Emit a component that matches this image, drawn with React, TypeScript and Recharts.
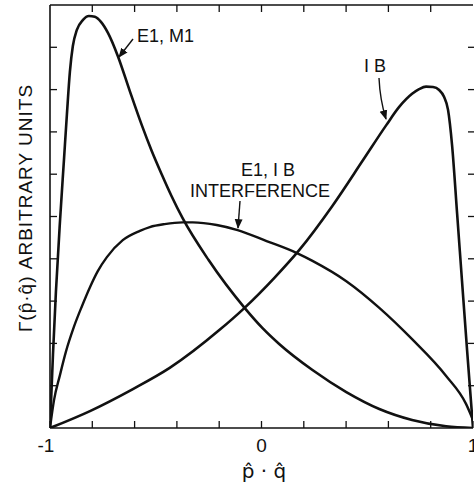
import { LineChart, Line, XAxis, YAxis } from 'recharts'

// x = p·q, y = rate in arbitrary units (0..10 tick grid)
const e1m1X = [-1, -0.986, -0.972, -0.953, -0.934, -0.92, -0.906, -0.892, -0.873, -0.844, -0.816, -0.788, -0.759, -0.726, -0.679, -0.623, -0.566, -0.519, -0.472, -0.425, -0.373, -0.25, -0.08, 0.005, 0.085, 0.241, 0.401, 0.557, 0.712, 0.873, 1]
const e1m1Y = [0, 1.73, 3.22, 4.87, 6.34, 7.42, 8.42, 9.03, 9.41, 9.65, 9.74, 9.72, 9.6, 9.34, 8.79, 7.97, 7.16, 6.55, 6.0, 5.48, 4.96, 3.97, 2.84, 2.36, 1.98, 1.37, 0.85, 0.45, 0.19, 0.04, 0]

const interfX = [-1, -0.981, -0.953, -0.925, -0.887, -0.849, -0.811, -0.774, -0.731, -0.656, -0.575, -0.528, -0.458, -0.373, -0.325, -0.212, -0.113, 0.024, 0.165, 0.241, 0.401, 0.557, 0.712, 0.873, 0.967, 1]
const interfY = [0, 0.66, 1.25, 1.8, 2.39, 2.88, 3.33, 3.71, 4.04, 4.44, 4.66, 4.75, 4.82, 4.86, 4.86, 4.8, 4.68, 4.42, 4.14, 3.95, 3.47, 2.84, 2.1, 1.23, 0.57, 0.19]

const ibX = [-1, -0.811, -0.608, -0.434, -0.198, -0.08, 0.061, 0.179, 0.335, 0.481, 0.59, 0.651, 0.712, 0.745, 0.778, 0.811, 0.84, 0.863, 0.882, 0.901, 0.925, 0.948, 0.972, 1]
const ibY = [0, 0.4, 0.92, 1.42, 2.32, 2.84, 3.55, 4.21, 5.25, 6.34, 7.16, 7.59, 7.9, 8.01, 8.07, 8.06, 7.99, 7.83, 7.52, 6.69, 5.06, 3.48, 1.84, 0]

const xTicks = [-1, -0.8, -0.6, -0.4, -0.2, 0, 0.2, 0.4, 0.6, 0.8, 1]
const yTicks = [0, 1, 2, 3, 4, 5, 6, 7, 8, 9, 10]
const xTickLabels: Record<string, string> = { '-1': '-1', '0': '0', '1': '1' }

const zip = (xs: number[], ys: number[]) => xs.map((x, i) => ({ x, y: ys[i] }))
const e1m1 = zip(e1m1X, e1m1Y)
const interf = zip(interfX, interfY)
const ib = zip(ibX, ibY)

const INK = '#111'
const FONT = '"Liberation Sans", Arial, sans-serif'
const W = 474
const H = 487

function BottomTick({ x, y, payload }: any) {
  const label = xTickLabels[String(payload.value)]
  return (
    <g>
      <line x1={x} y1={y} x2={x} y2={y - 7} stroke={INK} strokeWidth={1.3} />
      {label && (
        <text
          x={payload.value === -1 ? x - 4 : x}
          y={y + 24}
          textAnchor="middle"
          fontSize={19}
          fontFamily={FONT}
          fill={INK}
        >
          {label}
        </text>
      )}
    </g>
  )
}

function TopTick({ x, y }: any) {
  return <line x1={x} y1={y} x2={x} y2={y + 7} stroke={INK} strokeWidth={1.3} />
}

function LeftTick({ x, y }: any) {
  return <line x1={x} y1={y} x2={x + 7} y2={y} stroke={INK} strokeWidth={1.3} />
}

function RightTick({ x, y }: any) {
  return <line x1={x + 1} y1={y} x2={x - 5} y2={y} stroke={INK} strokeWidth={1.3} />
}

function Annotations() {
  const txt = { fontFamily: FONT, fontSize: 18, fill: INK }
  return (
    <svg
      width={W}
      height={H}
      style={{ position: 'absolute', left: 0, top: 0, pointerEvents: 'none' }}
    >
      <defs>
        <marker id="head" viewBox="0 0 10 10" refX="9" refY="5" markerWidth="7" markerHeight="7" orient="auto">
          <path d="M0,1 L10,5 L0,9 z" fill={INK} />
        </marker>
      </defs>

      {/* curve labels */}
      <text x={137} y={42} {...txt}>E1, M1</text>
      <line x1={133} y1={39} x2={119} y2={57} stroke={INK} strokeWidth={1.4} markerEnd="url(#head)" />

      <text x={364} y={72} {...txt}>I  B</text>
      <path d="M379,78 Q380,100 386,119" fill="none" stroke={INK} strokeWidth={1.4} markerEnd="url(#head)" />

      <text x={241} y={176} {...txt}>E1, I B</text>
      <text x={190} y={197} {...txt}>INTERFERENCE</text>
      <line x1={240} y1={201} x2={238} y2={228} stroke={INK} strokeWidth={1.4} markerEnd="url(#head)" />

      {/* axis titles */}
      <g transform="translate(32,208) rotate(-90)">
        <text x={0} y={0} textAnchor="middle" {...txt} fontSize={19} letterSpacing={1}>
          Γ(p̂·q̂)  ARBITRARY  UNITS
        </text>
      </g>
      <text x={264} y={478} textAnchor="middle" {...txt} fontFamily='"DejaVu Sans", sans-serif' fontSize={20}>
        p̂ · q̂
      </text>
    </svg>
  )
}

export default function App() {
  return (
    <div style={{ position: 'absolute', left: 0, top: 0, width: W, height: H, background: '#fff' }}>
      <LineChart width={W} height={H} margin={{ top: 4, right: 0, bottom: 58, left: 49 }}>
        <XAxis
          dataKey="x"
          type="number"
          domain={[-1, 1]}
          ticks={xTicks}
          interval={0}
          height={1}
          tickSize={0}
          tickMargin={0}
          tickLine={false}
          tick={<BottomTick />}
          axisLine={{ stroke: INK, strokeWidth: 1.6 }}
          allowDataOverflow
        />
        <XAxis
          xAxisId="top"
          orientation="top"
          dataKey="x"
          type="number"
          domain={[-1, 1]}
          ticks={xTicks.slice(1, -1)}
          interval={0}
          height={1}
          tickSize={0}
          tickMargin={0}
          tickLine={false}
          tick={<TopTick />}
          axisLine={{ stroke: INK, strokeWidth: 1.6 }}
          allowDataOverflow
        />
        <YAxis
          type="number"
          domain={[0, 10]}
          ticks={yTicks.slice(1, -1)}
          interval={0}
          width={1}
          tickSize={0}
          tickMargin={0}
          tickLine={false}
          tick={<LeftTick />}
          axisLine={{ stroke: INK, strokeWidth: 1.6 }}
          allowDataOverflow
        />
        <YAxis
          yAxisId="right"
          orientation="right"
          type="number"
          domain={[0, 10]}
          ticks={yTicks.slice(1, -1)}
          interval={0}
          width={1}
          tickSize={0}
          tickMargin={0}
          tickLine={false}
          tick={<RightTick />}
          axisLine={false}
          allowDataOverflow
        />
        <Line data={e1m1} dataKey="y" type="monotone" stroke={INK} strokeWidth={2.6} dot={false} isAnimationActive={false} />
        <Line data={interf} dataKey="y" type="monotone" stroke={INK} strokeWidth={2.4} dot={false} isAnimationActive={false} />
        <Line data={ib} dataKey="y" type="monotone" stroke={INK} strokeWidth={2.6} dot={false} isAnimationActive={false} />
      </LineChart>
      <Annotations />
    </div>
  )
}
